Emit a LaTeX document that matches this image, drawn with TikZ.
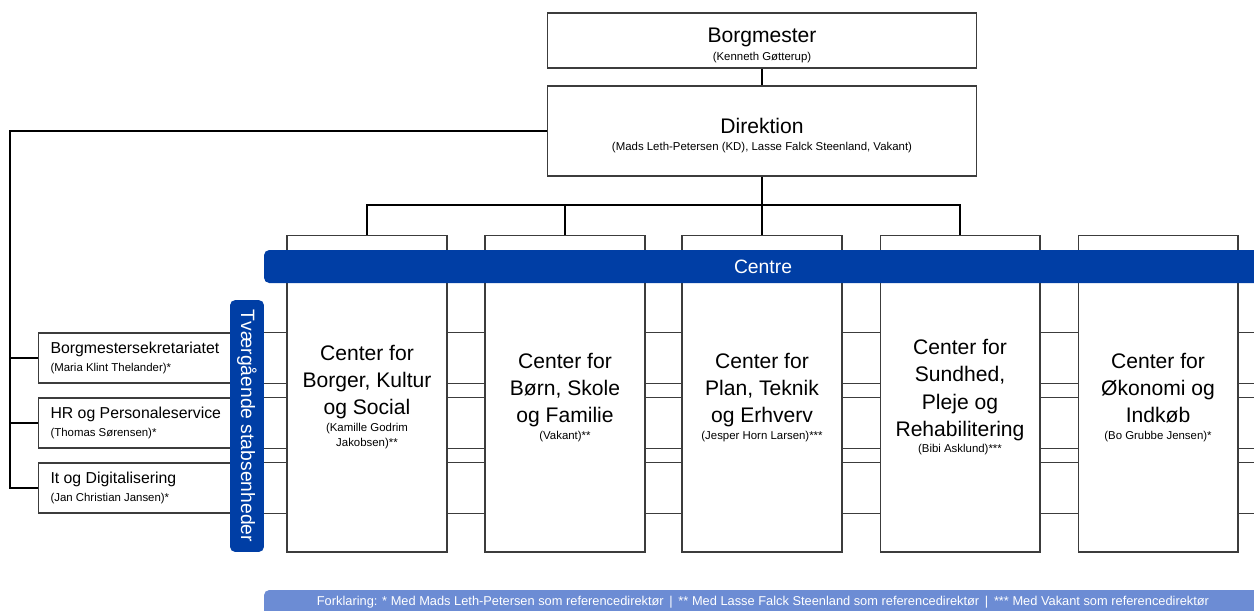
\documentclass[tikz,border=0pt]{standalone}
\usepackage{fontspec}
\setmainfont{Liberation Sans}
\usepackage{tikz}
\usetikzlibrary{positioning}
\definecolor{centreblue}{RGB}{0,62,165}
\definecolor{noteblue}{RGB}{108,140,212}
\definecolor{boxgray}{RGB}{60,60,60}
\newcommand{\nmfont}{\fontsize{12}{15.4}\selectfont}
\newcommand{\psfont}{\fontsize{6.5}{8.5}\selectfont}
\newcommand{\stfont}{\fontsize{9}{11}\selectfont}
\tikzset{
  box/.style={draw=boxgray,line width=0.6pt,fill=white,align=flush center,inner sep=2pt,font=\nmfont},
  centrebox/.style={box,minimum width=3.2cm,minimum height=6.34cm},
  staffbox/.style={box,font=\stfont,align=flush left,anchor=west,inner xsep=0.24cm,text width=3.5cm,minimum height=1cm},
  conn/.style={line width=1pt,black},
  thinconn/.style={line width=0.6pt,black},
  rowline/.style={line width=0.6pt,boxgray},
  band/.style={fill=centreblue,text=white,font=\fontsize{11}{13}\selectfont}
}
\begin{document}
\begin{tikzpicture}[x=0.02cm,y=-0.02cm]
\clip (0,0) rectangle (1254,610);
% top
\node[box,minimum width=8.6cm,minimum height=1.1cm] (borg) at (762,40.5) {\rule{0pt}{14pt}Borgmester\\[-5.5pt]{\psfont (Kenneth Gøtterup)}};
\node[box,minimum width=8.6cm,minimum height=1.8cm] (dir) at (762,131) {\rule{0pt}{14pt}Direktion\\[-6pt]{\psfont (Mads Leth-Petersen (KD), Lasse Falck Steenland, Vakant)}};
% stabsenheder
\node[staffbox] (s1) at (38,358) {Borgmestersekretariatet\\[-1pt]{\psfont (Maria Klint Thelander)*}};
\node[staffbox] (s2) at (38,423) {HR og Personaleservice\\[-1pt]{\psfont (Thomas Sørensen)*}};
\node[staffbox] (s3) at (38,488) {It og Digitalisering\\[-1pt]{\psfont (Jan Christian Jansen)*}};
\draw[rowline] (s1.north east) -- ++(1100,0);
\draw[rowline] (s1.south east) -- ++(1100,0);
\draw[rowline] (s2.north east) -- ++(1100,0);
\draw[rowline] (s2.south east) -- ++(1100,0);
\draw[rowline] (s3.north east) -- ++(1100,0);
\draw[rowline] (s3.south east) -- ++(1100,0);
% centre
\node[centrebox] (c1) at (367,393.5) {\rule{0pt}{13pt}Center for\\Borger, Kultur\\og Social\\[-6pt]{\psfont (Kamille Godrim}\\[-6.5pt]{\psfont Jakobsen)**}};
\node[centrebox] (c2) at (565,393.5) {\rule{0pt}{13pt}Center for\\Børn, Skole\\og Familie\\[-6pt]{\psfont (Vakant)**}};
\node[centrebox] (c3) at (762,393.5) {\rule{0pt}{13pt}Center for\\Plan, Teknik\\og Erhverv\\[-6pt]{\psfont (Jesper Horn Larsen)***}};
\node[centrebox] (c4) at (960,393.5) {\rule{0pt}{13pt}Center for\\Sundhed,\\Pleje og\\Rehabilitering\\[-6pt]{\psfont (Bibi Asklund)***}};
\node[centrebox] (c5) at (1158,393.5) {\rule{0pt}{13pt}Center for\\Økonomi og\\Indkøb\\[-6pt]{\psfont (Bo Grubbe Jensen)*}};
% connectors
\coordinate (bar) at (762,205);
\coordinate (lft) at (10,131);
\draw[conn] (borg) -- (dir);
\draw[conn] (dir) -- (c3);
\draw[thinconn] (c1.north) -- (c1.north |- bar) -- (c4.north |- bar) -- (c4.north);
\draw[thinconn] (c2.north) -- (c2.north |- bar);
\draw[conn] (dir.west) -- (lft) |- (s3.west);
\draw[conn] (lft |- s1.west) -- (s1.west);
\draw[conn] (lft |- s2.west) -- (s2.west);
% bands
\fill[centreblue,rounded corners=3pt] (264,250) rectangle (1300,283);
\node[text=white,font=\fontsize{11}{13}\selectfont] (centre) at (763,266.5) {Centre};
\node[band,rounded corners=3pt,rotate=-90,minimum width=5.04cm,minimum height=0.68cm,inner sep=0pt] (tvaer) at (247,426) {Tværgående stabsenheder};
\fill[noteblue,rounded corners=3pt] (264,590) rectangle (1300,640);
\node[text=white,font=\fontsize{7.3}{8}\selectfont] (note) at (763,602) {Forklaring: * Med Mads Leth-Petersen som referencedirektør \,|\, ** Med Lasse Falck Steenland som referencedirektør \,|\, *** Med Vakant som referencedirektør};
\end{tikzpicture}
\end{document}
